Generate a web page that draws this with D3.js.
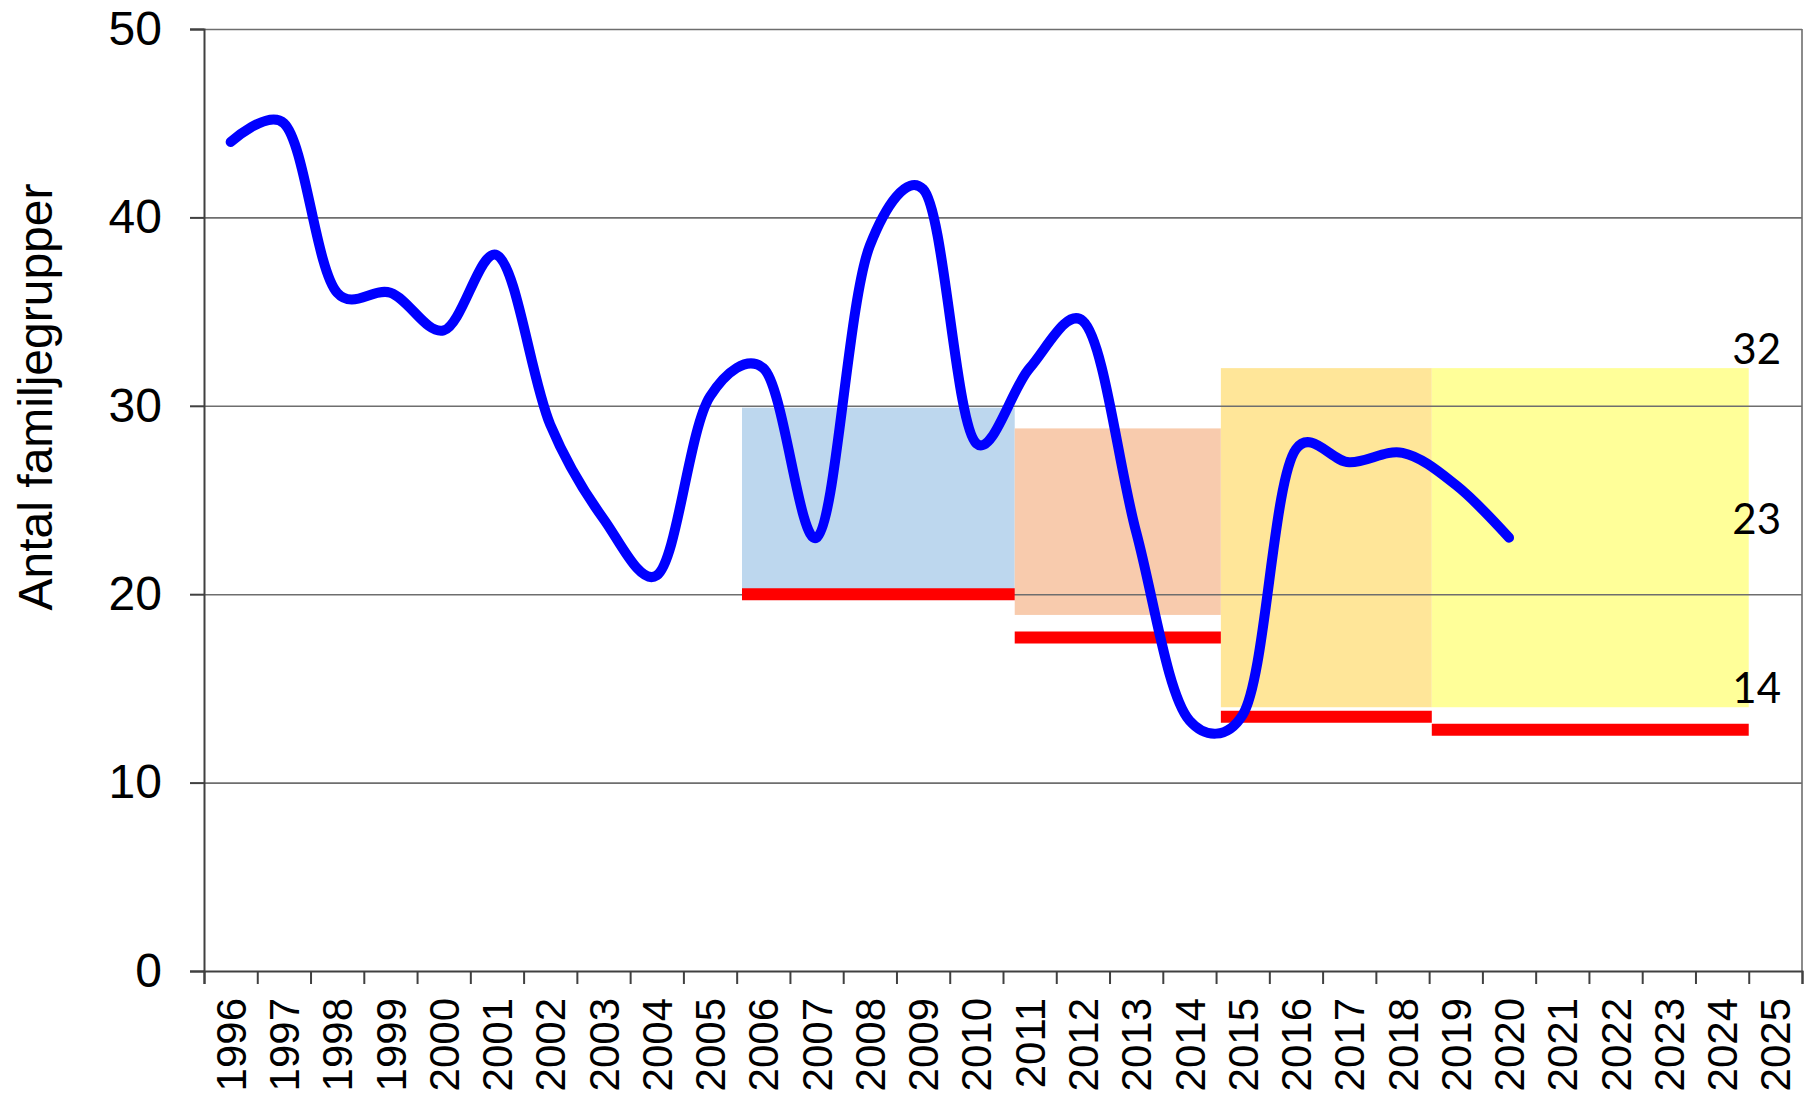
<!DOCTYPE html>
<html>
<head>
<meta charset="utf-8">
<script src="https://cdn.jsdelivr.net/npm/d3@7"></script>
<style>
  body { margin: 0; background: #fff; }
  svg { display: block; }
</style>
</head>
<body>
<div class="svg-container"></div>
<script>
// x axis categories
var categoryYears = ["1996", "1997", "1998", "1999", "2000", "2001", "2002", "2003", "2004", "2005",
                     "2006", "2007", "2008", "2009", "2010", "2011", "2012", "2013", "2014", "2015",
                     "2016", "2017", "2018", "2019", "2020", "2021", "2022", "2023", "2024", "2025"];

// counted family groups per year
var countYears  = [1996, 1997, 1998, 1999, 2000, 2001, 2002, 2003, 2004, 2005, 2006, 2007, 2008,
                   2009, 2010, 2011, 2012, 2013, 2014, 2015, 2016, 2017, 2018, 2019, 2020];
var countValues = [44, 45, 36, 36, 34, 38, 29, 24, 21, 30.5, 32, 23, 38.5,
                   41.5, 28, 32, 34.5, 23.3, 13.3, 13.6, 27.7, 27, 27.5, 25.8, 23];

// goal periods: shaded interval and minimum level (red line)
var periodStart = [2005.6, 2010.72, 2014.59, 2018.55];
var periodEnd   = [2010.72, 2014.59, 2018.55, 2024.5];
var periodHigh  = [29.9, 28.8, 32, 32];
var periodLow   = [20, 18.9, 14, 14];
var periodMin   = [20, 17.7, 13.5, 12.8];

// labels on the right of the last period
var rangeLabels = [32, 23, 14];

var yTickValues = [0, 10, 20, 30, 40, 50];

var periodFill = ["#BDD7EE", "#F8CBAD", "#FFE699", "#FFFF99"];

var width = 1810, height = 1093;
var margin = {top: 29, right: 8, bottom: 122, left: 204};
var plotW = width - margin.left - margin.right;
var plotH = height - margin.top - margin.bottom;

var svg = d3.select(".svg-container")
  .append("svg")
    .attr("width", width)
    .attr("height", height);

var g = svg.append("g")
  .attr("transform", "translate(" + margin.left + "," + margin.top + ")");

var xBand = d3.scaleBand().domain(categoryYears).range([0, plotW]).padding(0);
// continuous year scale, category centres sit on whole years
var xYear = d3.scaleLinear().domain([1995.5, 2025.5]).range([0, plotW]);
var y = d3.scaleLinear().domain([0, 50]).range([plotH, 0]);

// shaded periods
g.append("g").attr("class", "periods")
  .selectAll("rect")
  .data(periodStart)
  .enter()
  .append("rect")
    .attr("x", function(d) { return xYear(d); })
    .attr("width", function(d, i) { return xYear(periodEnd[i]) - xYear(d); })
    .attr("y", function(d, i) { return y(periodHigh[i]); })
    .attr("height", function(d, i) { return y(periodLow[i]) - y(periodHigh[i]); })
    .attr("fill", function(d, i) { return periodFill[i]; });

// horizontal gridlines
g.append("g").attr("class", "grid")
  .call(d3.axisLeft(y).tickValues(yTickValues.slice(1)).tickSize(-plotW).tickFormat(""))
  .call(function(s) {
    s.select(".domain").remove();
    s.selectAll("line").attr("stroke", "#6e6e6e").attr("stroke-width", 1.6);
  });

// right border of the plot area
g.append("line")
  .attr("x1", plotW).attr("x2", plotW)
  .attr("y1", 0).attr("y2", plotH)
  .attr("stroke", "#6e6e6e").attr("stroke-width", 1.6);

// minimum levels
g.append("g").attr("class", "minimum")
  .selectAll("line")
  .data(periodMin)
  .enter()
  .append("line")
    .attr("x1", function(d, i) { return xYear(periodStart[i]); })
    .attr("x2", function(d, i) { return xYear(periodEnd[i]); })
    .attr("y1", function(d) { return y(d); })
    .attr("y2", function(d) { return y(d); })
    .attr("stroke", "#FF0000")
    .attr("stroke-width", 12);

// y axis
g.append("g").attr("class", "y-axis")
  .call(d3.axisLeft(y).tickValues(yTickValues).tickSize(14).tickPadding(28))
  .call(function(s) {
    s.select(".domain").attr("stroke", "#404040").attr("stroke-width", 2);
    s.selectAll("line").attr("stroke", "#404040").attr("stroke-width", 2);
    s.selectAll("text")
      .attr("font-family", "'Liberation Sans', Arial, sans-serif")
      .attr("font-size", "48px")
      .attr("fill", "#000");
  });

// x axis: tick marks between categories
var boundaryTicks = categoryYears.map(function(c) { return +c - 0.5; }).concat([2025.5]);
g.append("g").attr("class", "x-ticks")
  .attr("transform", "translate(0," + plotH + ")")
  .call(d3.axisBottom(xYear).tickValues(boundaryTicks).tickSize(13).tickFormat(""))
  .call(function(s) {
    s.select(".domain").attr("stroke", "#404040").attr("stroke-width", 2);
    s.selectAll("line").attr("stroke", "#404040").attr("stroke-width", 2);
  });

// x axis labels
g.append("g").attr("class", "x-labels")
  .attr("transform", "translate(0," + plotH + ")")
  .call(d3.axisBottom(xBand).tickSize(0))
  .call(function(s) {
    s.select(".domain").remove();
    s.selectAll("text")
      .attr("font-family", "'Liberation Sans', Arial, sans-serif")
      .attr("font-size", "42px")
      .attr("fill", "#000")
      .attr("text-anchor", "end")
      .attr("dy", "0.36em")
      .attr("y", 0)
      .attr("transform", "translate(0,27) rotate(-90)");
  });

// count line
var line = d3.line()
  .x(function(d, i) { return xBand(String(countYears[i])) + xBand.bandwidth() / 2; })
  .y(function(d) { return y(d); })
  .curve(d3.curveCatmullRom.alpha(0.25));

g.append("path")
  .datum(countValues)
  .attr("d", line)
  .attr("fill", "none")
  .attr("stroke", "#0000FF")
  .attr("stroke-width", 10)
  .attr("stroke-linecap", "round")
  .attr("stroke-linejoin", "round");

// labels on the last period
g.append("g").attr("class", "range-labels")
  .selectAll("text")
  .data(rangeLabels)
  .enter()
  .append("text")
    .attr("x", 1577)
    .attr("y", function(d) { return y(d) - 4; })
    .attr("text-anchor", "end")
    .attr("font-family", "Lato, 'Open Sans', sans-serif")
    .attr("font-size", "42px")
    .attr("fill", "#000")
    .text(function(d) { return d; });

// y axis title
svg.append("text")
  .attr("transform", "translate(35,397) rotate(-90)")
  .attr("text-anchor", "middle")
  .attr("dominant-baseline", "central")
  .attr("font-family", "'Liberation Sans', Arial, sans-serif")
  .attr("font-size", "48px")
  .attr("fill", "#000")
  .text("Antal familjegrupper");
</script>
</body>
</html>
